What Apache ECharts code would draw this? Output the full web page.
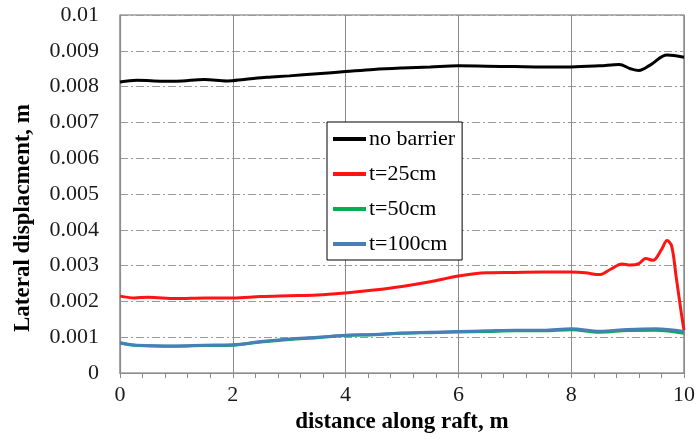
<!DOCTYPE html>
<html>
<head>
<meta charset="utf-8">
<script src="https://cdn.jsdelivr.net/npm/echarts@6/dist/echarts.min.js"></script>
<style>
  html, body { margin: 0; padding: 0; background: #fff; }
  #chart { width: 698px; height: 439px; }
</style>
</head>
<body>
<div id="chart"></div>
<script>
// Distance along the raft (m) and lateral displacement (m) for each case
const seriesNames = ['no barrier', 't=25cm', 't=50cm', 't=100cm'];

const noBarrierX = [0, 0.3, 0.6, 1.0, 1.5, 1.9, 2.2, 2.6, 3.0, 3.5, 4.0, 4.5, 5.0, 5.5, 6.0, 6.5, 7.0, 7.5, 8.0, 8.5, 8.85, 9.05, 9.2, 9.4, 9.7, 10];
const noBarrierY = [0.00813, 0.00818, 0.00816, 0.00815, 0.0082, 0.00816, 0.0082, 0.00826, 0.0083, 0.00836, 0.00842, 0.00848, 0.00852, 0.00855, 0.00858, 0.00857, 0.00856, 0.00855, 0.00855, 0.00858, 0.00862, 0.0085, 0.00845, 0.0086, 0.00888, 0.00882];

const t25X = [0, 0.25, 0.5, 1.0, 1.5, 2.0, 2.5, 3.0, 3.5, 4.0, 4.5, 5.0, 5.5, 6.0, 6.5, 7.0, 7.5, 8.0, 8.25, 8.5, 8.7, 8.9, 9.05, 9.2, 9.32, 9.45, 9.6, 9.7, 9.78, 9.86, 9.95, 10];
const t25Y = [0.00215, 0.0021, 0.00212, 0.00208, 0.0021, 0.0021, 0.00214, 0.00216, 0.00218, 0.00224, 0.00232, 0.00242, 0.00255, 0.00271, 0.0028, 0.00281, 0.00282, 0.00282, 0.0028, 0.00275, 0.0029, 0.00305, 0.00302, 0.00306, 0.0032, 0.00315, 0.00345, 0.0037, 0.00355, 0.0027, 0.0017, 0.0012];

const t50X = [0, 0.3, 1.0, 1.5, 2.0, 2.5, 3.0, 3.5, 4.0, 4.5, 5.0, 5.5, 6.0, 6.5, 7.0, 7.5, 8.0, 8.5, 9.0, 9.5, 10];
const t50Y = [0.00084, 0.00077, 0.00075, 0.00077, 0.00078, 0.00087, 0.00094, 0.00099, 0.00105, 0.00107, 0.00111, 0.00113, 0.00115, 0.00116, 0.00118, 0.00118, 0.00121, 0.00114, 0.00119, 0.0012, 0.00111];

const t100X = [0, 0.3, 1.0, 1.5, 2.0, 2.5, 3.0, 3.5, 4.0, 4.5, 5.0, 5.5, 6.0, 6.5, 7.0, 7.5, 8.0, 8.5, 9.0, 9.5, 10];
const t100Y = [0.00085, 0.00078, 0.00076, 0.00078, 0.00079, 0.00088, 0.00095, 0.001, 0.00106, 0.00108, 0.00112, 0.00114, 0.00116, 0.00118, 0.0012, 0.0012, 0.00124, 0.00117, 0.00122, 0.00124, 0.00116];

const xTicks = [0, 2, 4, 6, 8, 10];
const yTicks = [0, 0.001, 0.002, 0.003, 0.004, 0.005, 0.006, 0.007, 0.008, 0.009, 0.01];

const colors = ['#000000', '#ff1414', '#00b050', '#4a7ebb'];
const FONT = '"Liberation Serif", "Times New Roman", serif';

const pairs = (xs, ys) => xs.map((x, i) => [x, ys[i]]);
const allX = [noBarrierX, t25X, t50X, t100X];
const allY = [noBarrierY, t25Y, t50Y, t100Y];

const chart = echarts.init(document.getElementById('chart'), null, { renderer: 'canvas' });

chart.setOption({
  animation: false,
  backgroundColor: '#ffffff',
  color: colors,
  grid: {
    left: 120, right: 12, top: 15, bottom: 65,
    show: true, borderColor: '#6f6f6f', borderWidth: 1.2
  },
  legend: {
    data: seriesNames,
    orient: 'vertical',
    left: 327, top: 122,
    icon: 'rect', itemWidth: 33, itemHeight: 4,
    itemGap: 11,
    padding: [5, 7, 4, 6],
    borderColor: '#000000', borderWidth: 1,
    backgroundColor: '#ffffff',
    textStyle: { fontFamily: FONT, fontSize: 22, lineHeight: 24, color: '#000', padding: [0, 0, 0, -2] }
  },
  xAxis: {
    type: 'value',
    min: xTicks[0], max: xTicks[xTicks.length - 1], interval: 2,
    axisLine: { show: true, lineStyle: { color: '#8c8c8c', width: 1.2 } },
    axisTick: { show: true, inside: false, length: 5, lineStyle: { color: '#8c8c8c' } },
    minorTick: { show: true, splitNumber: 5, length: 5, lineStyle: { color: '#8c8c8c' } },
    splitLine: { show: true, lineStyle: { color: '#8c8c8c', width: 1, type: 'solid' } },
    axisLabel: { fontFamily: FONT, fontSize: 22, color: '#1a1a1a', margin: 11 },
    name: 'distance along raft, m',
    nameLocation: 'middle', nameGap: 34,
    nameTextStyle: { fontFamily: FONT, fontSize: 23, fontWeight: 'bold', color: '#000' }
  },
  yAxis: {
    type: 'value',
    min: yTicks[0], max: yTicks[yTicks.length - 1], interval: 0.001,
    axisLine: { show: true, lineStyle: { color: '#8c8c8c', width: 1.2 } },
    axisTick: { show: false },
    splitLine: { show: true, lineStyle: { color: '#9a9a9a', width: 1, type: [8, 3, 2, 3] } },
    axisLabel: {
      fontFamily: FONT, fontSize: 22, color: '#1a1a1a', margin: 21,
      formatter: v => {
        const idx = yTicks.findIndex(t => Math.abs(t - v) < 1e-9);
        return idx >= 0 ? String(+yTicks[idx].toFixed(3)) : '';
      }
    }
  },
  graphic: [{
    type: 'text',
    x: 23, y: 218,
    rotation: Math.PI / 2,
    style: {
      text: 'Lateral displacment, m',
      font: 'bold 23px ' + FONT,
      fill: '#000',
      textAlign: 'center',
      textVerticalAlign: 'middle'
    }
  }],
  series: seriesNames.map((name, i) => ({
    name,
    type: 'line',
    data: pairs(allX[i], allY[i]),
    smooth: 0.35,
    symbol: 'none',
    lineStyle: { color: colors[i], width: 3 },
    z: 2 + i
  }))
});
</script>
</body>
</html>
